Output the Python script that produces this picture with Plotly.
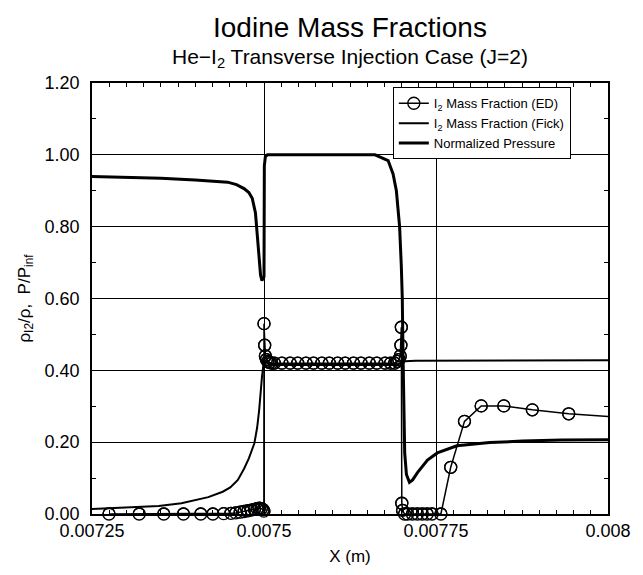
import plotly.graph_objects as go

# ---------------- data ----------------
# I2 mass fraction, ED model (circles)
ed_x = [0.0072747, 0.0073186, 0.0073543, 0.0073829, 0.0074081, 0.0074257, 0.0074414,
        0.0074519, 0.0074590, 0.0074653, 0.0074710, 0.0074767, 0.0074814, 0.0074861,
        0.0074900, 0.0074933, 0.0074961, 0.0074986, 0.0074998,
        0.0075000, 0.0075010, 0.0075020, 0.0075035, 0.0075055, 0.0075080, 0.0075110,
        0.007515, 0.007526, 0.007538, 0.007549, 0.007561, 0.007572, 0.007584, 0.007595,
        0.007607, 0.007618, 0.007630, 0.007641, 0.007653, 0.007664, 0.007676, 0.007684,
        0.007690, 0.007694, 0.007696, 0.007698, 0.0076990, 0.0076996,
        0.0077003, 0.0077015, 0.0077043, 0.0077086, 0.0077157, 0.0077229, 0.0077300,
        0.0077371, 0.0077443, 0.0077571, 0.0077714, 0.0077914, 0.0078157, 0.0078486,
        0.0078900, 0.0079429, 0.0080100]
ed_y = [0.0, 0.0, 0.0, 0.0, 0.0, 0.0, 0.001,
        0.002, 0.003, 0.005, 0.007, 0.009, 0.011, 0.013,
        0.015, 0.016, 0.015, 0.012, 0.008,
        0.53, 0.47, 0.44, 0.43, 0.425, 0.422, 0.42,
        0.42, 0.42, 0.42, 0.42, 0.42, 0.42, 0.42, 0.42,
        0.42, 0.42, 0.42, 0.42, 0.42, 0.42, 0.42, 0.42,
        0.42, 0.425, 0.43, 0.44, 0.47, 0.52,
        0.03, 0.01, 0.0, 0.0, 0.0, 0.0, 0.0,
        0.0, 0.0, 0.0, 0.13, 0.258, 0.301, 0.301,
        0.29, 0.279, 0.27]

# I2 mass fraction, Fick model (thin line)
fick_x = [0.00725, 0.0073, 0.007347, 0.00738, 0.007419, 0.00744, 0.007451, 0.007462,
          0.007471, 0.007478, 0.007483, 0.007486, 0.00749, 0.007493, 0.007497, 0.0075,
          0.007505, 0.00751, 0.0076, 0.00769, 0.0077, 0.007705, 0.00772, 0.00775,
          0.0078, 0.0079, 0.008]
fick_y = [0.014, 0.018, 0.022, 0.03, 0.047, 0.062, 0.074, 0.095,
          0.126, 0.155, 0.181, 0.197, 0.24, 0.29, 0.381, 0.43,
          0.42, 0.415, 0.415, 0.415, 0.42, 0.425, 0.427, 0.427,
          0.427, 0.428, 0.428]

# Normalized pressure (thick line)
p_x = [0.00725, 0.0073, 0.00735, 0.0074, 0.00743, 0.0074471, 0.00746, 0.007471,
       0.007478, 0.0074829, 0.0074876, 0.007489, 0.007491, 0.007493, 0.007495, 0.007497,
       0.0075, 0.0075005, 0.007502, 0.007505, 0.00755, 0.0076, 0.0076614,
       0.0076804, 0.0076876, 0.0076924, 0.0076947, 0.0076971, 0.0076996, 0.007701,
       0.007702, 0.0077029, 0.0077045, 0.007707, 0.0077114, 0.007716, 0.0077233,
       0.0077376, 0.0077519, 0.0077804, 0.0078281, 0.0078757, 0.0079329, 0.008]
p_y = [0.94, 0.938, 0.935, 0.93, 0.927, 0.924, 0.917, 0.906,
       0.895, 0.879, 0.838, 0.80, 0.75, 0.70, 0.665, 0.65,
       0.66, 0.97, 0.995, 1.0, 1.0, 1.0, 1.0,
       0.984, 0.947, 0.90, 0.856, 0.80, 0.69, 0.60,
       0.45, 0.30, 0.17, 0.11, 0.088, 0.095, 0.116,
       0.15, 0.17, 0.19, 0.199, 0.203, 0.206, 0.207]

x_tick_vals = [0.00725, 0.0075, 0.00775, 0.008]
x_tick_text = ["0.00725", "0.0075", "0.00775", "0.008"]
y_tick_vals = [0.0, 0.2, 0.4, 0.6, 0.8, 1.0, 1.2]
y_tick_text = ["0.00", "0.20", "0.40", "0.60", "0.80", "1.00", "1.20"]

X_RANGE = [0.00725, 0.008]
Y_RANGE = [0.0, 1.2]

# ---------------- figure ----------------
FONT = "Liberation Sans, Arial, sans-serif"
fig = go.Figure()

fig.add_trace(go.Scatter(
    x=ed_x, y=ed_y, mode="lines+markers", name="I<sub>2</sub> Mass Fraction (ED)",
    line=dict(color="black", width=1.5),
    marker=dict(symbol="circle-open", size=12, color="black", line=dict(width=1.3)),
))
fig.add_trace(go.Scatter(
    x=fick_x, y=fick_y, mode="lines", name="I<sub>2</sub> Mass Fraction (Fick)",
    line=dict(color="black", width=2),
))
fig.add_trace(go.Scatter(
    x=p_x, y=p_y, mode="lines", name="Normalized Pressure",
    line=dict(color="black", width=3),
))
# unclipped copy of the in-range circles (they sit on the axis in the reference)
in_x = [x for x in ed_x if X_RANGE[0] <= x <= X_RANGE[1]]
in_y = [y for x, y in zip(ed_x, ed_y) if X_RANGE[0] <= x <= X_RANGE[1]]
fig.add_trace(go.Scatter(
    x=in_x, y=in_y, mode="markers", showlegend=False, cliponaxis=False,
    marker=dict(symbol="circle-open", size=12, color="black", line=dict(width=1.3)),
    hoverinfo="skip",
))

axis_common = dict(
    showline=True, linecolor="black", linewidth=1.5, mirror="ticks",
    ticks="inside", ticklen=7, tickwidth=1, tickcolor="black",
    showgrid=True, gridcolor="black", gridwidth=1, zeroline=False,
    tickfont=dict(family=FONT, size=18, color="black"),
    ticklabeloverflow="allow",
)

fig.update_xaxes(
    range=X_RANGE, tickvals=x_tick_vals, ticktext=x_tick_text,
    minor=dict(dtick=0.000025, tick0=0.00725, ticks="inside", ticklen=4,
               tickcolor="black", showgrid=False),
    title=dict(text="X (m)", font=dict(family=FONT, size=17, color="black"), standoff=10),
    ticklabelstandoff=0,
    **axis_common,
)
fig.update_yaxes(
    range=Y_RANGE, tickvals=y_tick_vals, ticktext=y_tick_text,
    minor=dict(dtick=0.1, tick0=0, ticks="inside", ticklen=4,
               tickcolor="black", showgrid=False),
    title=dict(text="ρ<sub>I2</sub>/ρ,  P/P<sub>inf</sub>",
               font=dict(family=FONT, size=17, color="black"), standoff=10),
    ticklabelstandoff=7,
    **axis_common,
)

# the page body keeps an 8 px margin, so the figure is 8 px smaller and shifted
fig.update_layout(
    width=635, height=567,
    margin=dict(l=84, r=26, t=75, b=56),
    paper_bgcolor="white", plot_bgcolor="white",
    font=dict(family=FONT, color="black"),
    legend=dict(
        x=0.583, y=0.99, xanchor="left", yanchor="top",
        bgcolor="white", bordercolor="black", borderwidth=1,
        font=dict(family=FONT, size=13, color="black"),
        tracegroupgap=0, itemwidth=30, entrywidth=160,
    ),
    annotations=[
        dict(text="Iodine Mass Fractions", xref="paper", yref="paper",
             x=0.5, y=1, yshift=56, showarrow=False, yanchor="middle",
             font=dict(family=FONT, size=28, color="black")),
        dict(text="He\u2212I<sub>2</sub> Transverse Injection Case (J=2)", xref="paper",
             yref="paper", x=0.5, y=1, yshift=25, showarrow=False, yanchor="middle",
             font=dict(family=FONT, size=21, color="black")),
    ],
)

fig.write_html("out.html")
